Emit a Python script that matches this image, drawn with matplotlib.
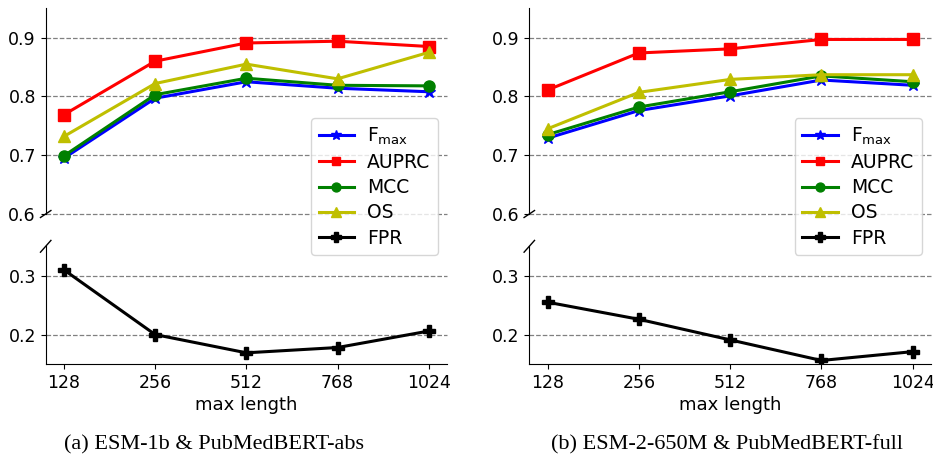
import matplotlib
matplotlib.use("Agg")
import matplotlib.pyplot as plt

lengths = ["128", "256", "512", "768", "1024"]

# Panel (a) ESM-1b & PubMedBERT-abs
a_fmax = [0.695, 0.797, 0.825, 0.814, 0.808]
a_auprc = [0.769, 0.860, 0.891, 0.894, 0.885]
a_mcc = [0.699, 0.803, 0.831, 0.819, 0.818]
a_os = [0.732, 0.822, 0.855, 0.830, 0.875]
a_fpr = [0.310, 0.200, 0.169, 0.178, 0.206]

# Panel (b) ESM-2-650M & PubMedBERT-full
b_fmax = [0.729, 0.776, 0.801, 0.828, 0.819]
b_auprc = [0.811, 0.874, 0.881, 0.897, 0.897]
b_mcc = [0.735, 0.782, 0.808, 0.835, 0.825]
b_os = [0.745, 0.807, 0.829, 0.837, 0.837]
b_fpr = [0.255, 0.226, 0.191, 0.156, 0.171]

captions = ["(a) ESM-1b & PubMedBERT-abs", "(b) ESM-2-650M & PubMedBERT-full"]

W, H = 933, 459
fig = plt.figure(figsize=(W / 100, H / 100), dpi=100)


def px(x0, x1, ytop, ybot):
    return [x0 / W, 1 - ybot / H, (x1 - x0) / W, (ybot - ytop) / H]


def panel(x0, x1, fmax, auprc, mcc, os_, fpr, cap, capx, legx):
    axt = fig.add_axes(px(x0, x1, 8.3, 214))
    axb = fig.add_axes(px(x0, x1, 246.3, 364))
    axt.set_zorder(3)
    xs = list(range(len(lengths)))
    lw = 2.2
    ms = 8
    h1, = axt.plot(xs, fmax, color="b", marker="*", lw=lw, ms=ms + 1, label=r"F$_{\mathrm{max}}$")
    h2, = axt.plot(xs, auprc, color="r", marker="s", lw=lw, ms=ms, label="AUPRC")
    h3, = axt.plot(xs, mcc, color="g", marker="o", lw=lw, ms=ms, label="MCC")
    h4, = axt.plot(xs, os_, color="y", marker="^", lw=lw, ms=ms + 1, label="OS")
    h5, = axb.plot(xs, fpr, color="k", marker="P", lw=lw, ms=ms + 1, label="FPR")
    axt.set_ylim(0.6, 0.95)
    axb.set_ylim(0.15, 0.35)
    axt.set_yticks([0.6, 0.7, 0.8, 0.9])
    axb.set_yticks([0.2, 0.3])
    for ax in (axt, axb):
        ax.set_xlim(-0.2, 4.2)
        ax.spines["top"].set_visible(False)
        ax.spines["right"].set_visible(False)
        ax.grid(axis="y", linestyle="--", color="gray", lw=0.9)
        ax.set_axisbelow(True)
        ax.tick_params(labelsize=12.5)
        for gl in ax.get_ygridlines():
            gl.set_clip_on(False)
    axt.spines["bottom"].set_visible(False)
    axt.set_xticks([])
    axb.set_xticks(xs)
    axb.set_xticklabels(lengths)
    axb.set_xlabel("max length", fontsize=13, labelpad=3)
    # break marks
    kw = dict(color="k", clip_on=False, lw=1.0)
    dx = 0.013
    axt.plot((-dx, dx), (-0.017, 0.017), transform=axt.transAxes, **kw)
    axb.plot((-dx, dx), (1 - 0.05, 1 + 0.05), transform=axb.transAxes, **kw)
    axt.legend(handles=[h1, h2, h3, h4, h5], loc="upper right",
               bbox_to_anchor=(legx / W, 1 - 118 / H), bbox_transform=fig.transFigure,
               fontsize=13.5, markerscale=0.8, handlelength=1.9, handletextpad=0.7,
               borderaxespad=0, labelspacing=0.33)
    fig.text(capx / W, 1 - 445 / H, cap, ha="center", va="center",
             fontsize=16, family="Liberation Serif")


panel(45.7, 447, a_fmax, a_auprc, a_mcc, a_os, a_fpr, captions[0], 214.5, 438)
panel(529.3, 931, b_fmax, b_auprc, b_mcc, b_os, b_fpr, captions[1], 727, 921.7)

fig.savefig("out.png", dpi=100)
